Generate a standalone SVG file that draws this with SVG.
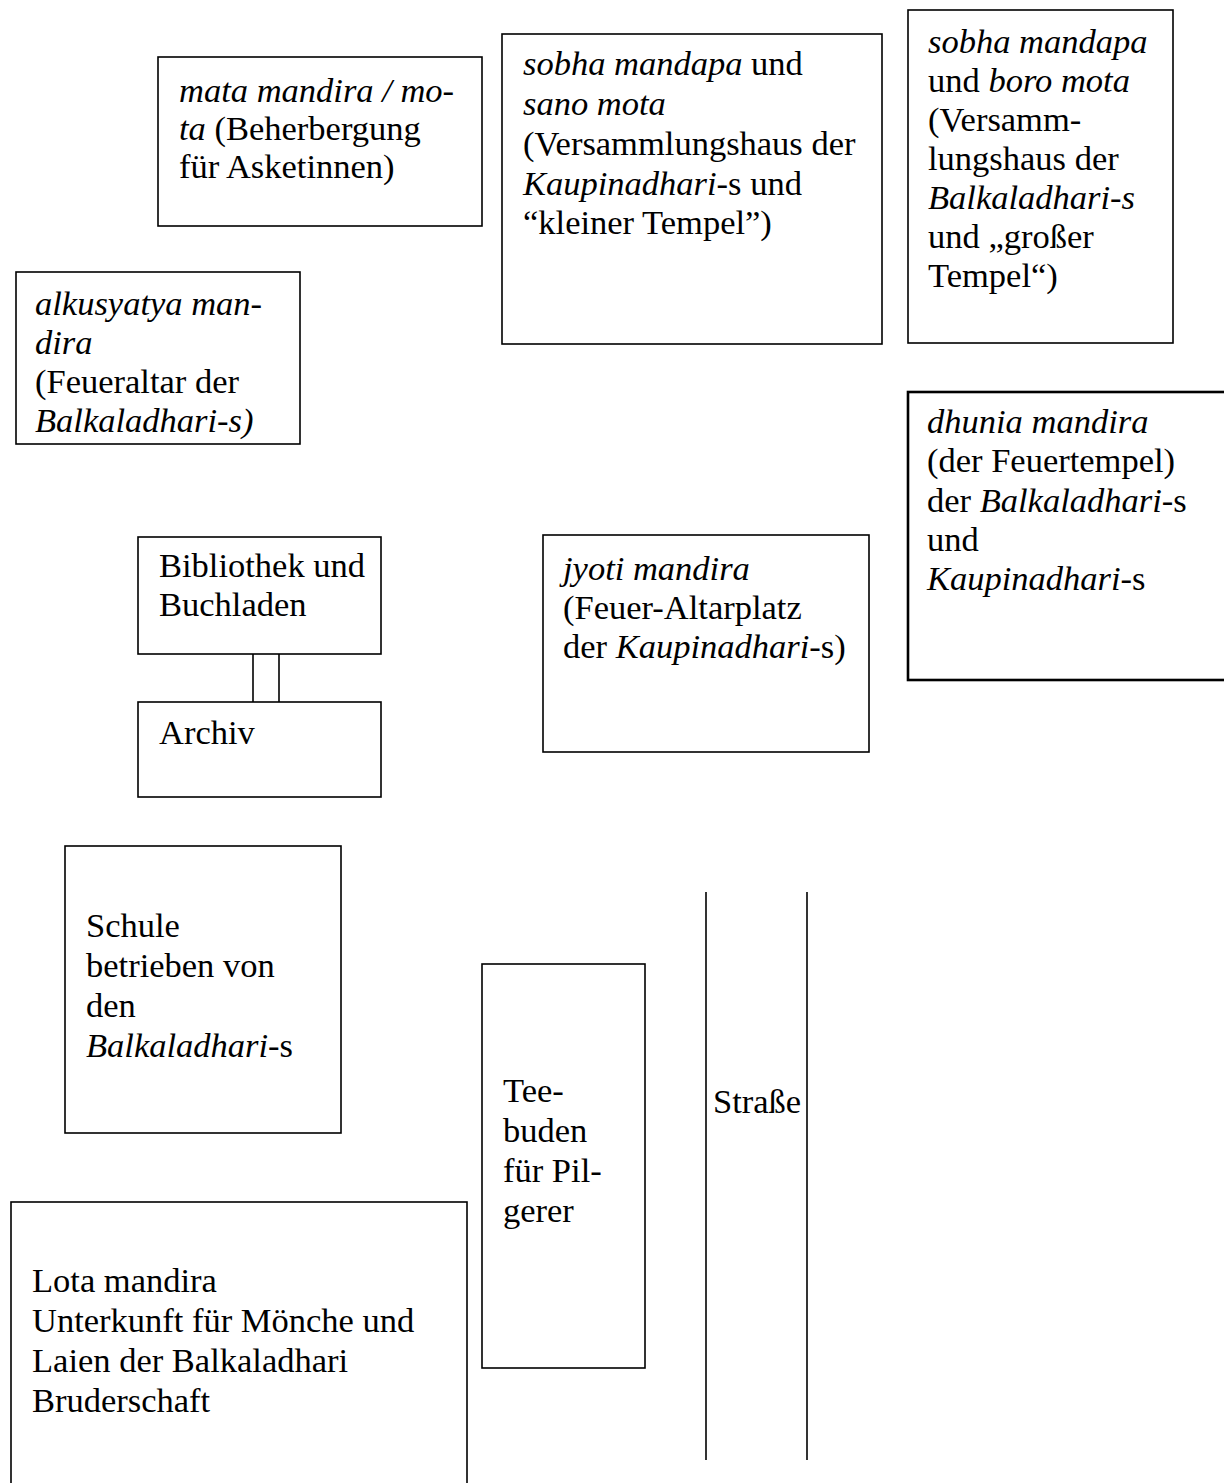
<svg xmlns="http://www.w3.org/2000/svg" width="1224" height="1483" viewBox="0 0 1224 1483">
<style>
  .box { fill: #ffffff; stroke: #000000; stroke-width: 1.6; }
  .thick { stroke-width: 2.6; }
  .ln { stroke: #000000; stroke-width: 1.6; fill: none; }
  text { font-family: "Liberation Serif", "Times New Roman", serif; font-size: 34.5px; fill: #000000; }
  .i { font-style: italic; }
</style>
<rect width="1224" height="1483" fill="#ffffff"/>

<g id="connectors">
  <line class="ln" x1="253" y1="654" x2="253" y2="702"/>
  <line class="ln" x1="279" y1="654" x2="279" y2="702"/>
</g>

<g id="mata-mandira">
  <rect class="box" x="158" y="57" width="324" height="169"/>
  <text x="179" y="102" class="i">mata mandira / mo-</text>
  <text x="179" y="140"><tspan class="i">ta</tspan> (Beherbergung</text>
  <text x="179" y="178">für Asketinnen)</text>
</g>

<g id="sobha-sano">
  <rect class="box" x="502" y="34" width="380" height="310"/>
  <text x="523" y="75"><tspan class="i">sobha mandapa</tspan> und</text>
  <text x="523" y="115" class="i">sano mota</text>
  <text x="523" y="155">(Versammlungshaus der</text>
  <text x="523" y="195"><tspan class="i">Kaupinadhari</tspan>-s und</text>
  <text x="523" y="234">“kleiner Tempel”)</text>
</g>

<g id="sobha-boro">
  <rect class="box" x="908" y="10" width="265" height="333"/>
  <text x="928" y="53" class="i">sobha mandapa</text>
  <text x="928" y="92">und <tspan class="i">boro mota</tspan></text>
  <text x="928" y="131">(Versamm-</text>
  <text x="928" y="170">lungshaus der</text>
  <text x="928" y="209" class="i">Balkaladhari-s</text>
  <text x="928" y="248">und „großer</text>
  <text x="928" y="287">Tempel“)</text>
</g>

<g id="alkusyatya">
  <rect class="box" x="16" y="272" width="284" height="172"/>
  <text x="35" y="315" class="i">alkusyatya man-</text>
  <text x="35" y="354" class="i">dira</text>
  <text x="35" y="393">(Feueraltar der</text>
  <text x="35" y="432" class="i">Balkaladhari-s)</text>
</g>

<g id="dhunia">
  <rect class="box thick" x="908" y="392" width="330" height="288"/>
  <text x="927" y="433" class="i">dhunia mandira</text>
  <text x="927" y="472">(der Feuertempel)</text>
  <text x="927" y="512">der <tspan class="i">Balkaladhari</tspan>-s</text>
  <text x="927" y="551">und</text>
  <text x="927" y="590"><tspan class="i">Kaupinadhari</tspan>-s</text>
</g>

<g id="bibliothek">
  <rect class="box" x="138" y="537" width="243" height="117"/>
  <text x="159" y="577">Bibliothek und</text>
  <text x="159" y="616">Buchladen</text>
</g>

<g id="archiv">
  <rect class="box" x="138" y="702" width="243" height="95"/>
  <text x="159" y="744">Archiv</text>
</g>

<g id="jyoti">
  <rect class="box" x="543" y="535" width="326" height="217"/>
  <text x="563" y="580" class="i">jyoti mandira</text>
  <text x="563" y="619">(Feuer-Altarplatz</text>
  <text x="563" y="658">der <tspan class="i">Kaupinadhari</tspan>-s)</text>
</g>

<g id="schule">
  <rect class="box" x="65" y="846" width="276" height="287"/>
  <text x="86" y="937">Schule</text>
  <text x="86" y="977">betrieben von</text>
  <text x="86" y="1017">den</text>
  <text x="86" y="1057"><tspan class="i">Balkaladhari</tspan>-s</text>
</g>

<g id="teebuden">
  <rect class="box" x="482" y="964" width="163" height="404"/>
  <text x="503" y="1102">Tee-</text>
  <text x="503" y="1142">buden</text>
  <text x="503" y="1182">für Pil-</text>
  <text x="503" y="1222">gerer</text>
</g>

<g id="strasse">
  <line class="ln" x1="706" y1="892" x2="706" y2="1460"/>
  <line class="ln" x1="807" y1="892" x2="807" y2="1460"/>
  <text x="713" y="1113">Straße</text>
</g>

<g id="lota">
  <rect class="box" x="11" y="1202" width="456" height="300"/>
  <text x="32" y="1292">Lota mandira</text>
  <text x="32" y="1332">Unterkunft für Mönche und</text>
  <text x="32" y="1372">Laien der Balkaladhari</text>
  <text x="32" y="1412">Bruderschaft</text>
</g>
</svg>
